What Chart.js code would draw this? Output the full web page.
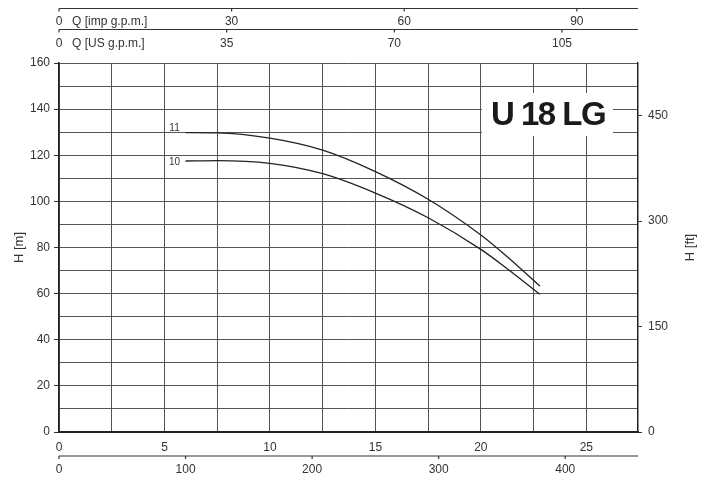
<!DOCTYPE html>
<html lang="en">
<head>
  <meta charset="UTF-8">
  <title>U 18 LG</title>
  <script src="https://cdn.jsdelivr.net/npm/chart.js"></script>
  <style>
    body { margin: 0; background: #fff; }
    canvas { display: block; }
  </style>
</head>
<body>
  <canvas id="pumpChart" width="710" height="482"></canvas>
  <script>
    // Flow in m3/h (main x axis), head in m
    const flow = [6, 7.5, 10, 12.5, 15, 17.5, 20, 21.25, 22.8];
    const head11 = [129.8, 129.7, 127.4, 122.2, 112.9, 100.9, 85.4, 76.0, 63.3];
    const head10 = [117.5, 117.7, 116.5, 112.0, 103.6, 92.9, 79.2, 70.8, 59.7];
    const curveNames = ['11', '10'];

    // secondary flow scales
    const impTicks = [0, 30, 60, 90];
    const usTicks = [0, 35, 70, 105];
    const lminTicks = [0, 100, 200, 300, 400];
    const IMP_TO_M3H = 0.27277;
    const US_TO_M3H = 0.22712;
    const LMIN_TO_M3H = 0.06;
    const M_TO_FT = 3.28084;

    const X_MAX = 27.45;
    const H_MAX = 160;

    Chart.defaults.font.family = "'Liberation Sans', Arial, sans-serif";
    Chart.defaults.font.size = 12;
    Chart.defaults.color = '#333';

    function pts(ys) {
      return flow.map((q, i) => ({ x: q, y: ys[i] }));
    }

    function noPad(s) {
      s.paddingLeft = 0; s.paddingRight = 0;
      s.paddingTop = 0; s.paddingBottom = 0;
    }

    function auxAxis(ctx, xs, y, ticks, factor, labelY) {
      ctx.strokeStyle = '#333';
      ctx.lineWidth = 1.2;
      ctx.beginPath();
      ctx.moveTo(xs.left, y);
      ctx.lineTo(xs.right, y);
      ctx.stroke();
      ctx.textAlign = 'center';
      ctx.textBaseline = 'middle';
      ticks.forEach(t => {
        const px = xs.getPixelForValue(t * factor);
        ctx.beginPath();
        ctx.moveTo(px, y);
        ctx.lineTo(px, y + 3);
        ctx.stroke();
        ctx.fillText(String(t), px, labelY);
      });
    }

    const extras = {
      id: 'extras',
      afterDraw(chart) {
        const { ctx, chartArea: a, scales } = chart;
        const xs = scales.x, ys = scales.y;
        ctx.save();

        // model name box
        ctx.fillStyle = '#fff';
        ctx.fillRect(482, 93, 131, 43);
        ctx.fillStyle = '#1a1a1a';
        ctx.font = "bold 33px 'Liberation Sans', Arial, sans-serif";
        ctx.letterSpacing = '-1.5px';
        ctx.textAlign = 'center';
        ctx.textBaseline = 'middle';
        ctx.fillText('U 18 LG', 548, 116);
        ctx.letterSpacing = '0px';

        // curve labels
        ctx.font = "10px 'Liberation Sans', Arial, sans-serif";
        ctx.fillStyle = '#333';
        ctx.fillText(curveNames[0], xs.getPixelForValue(flow[0]) - 11, ys.getPixelForValue(head11[0]) - 4);
        ctx.fillText(curveNames[1], xs.getPixelForValue(flow[0]) - 11, ys.getPixelForValue(head10[0]) + 1);

        // top and bottom secondary axes
        ctx.font = "12px 'Liberation Sans', Arial, sans-serif";
        ctx.fillStyle = '#333';
        auxAxis(ctx, xs, 8.5, impTicks, IMP_TO_M3H, 21.5);
        auxAxis(ctx, xs, 29.5, usTicks, US_TO_M3H, 43.5);
        auxAxis(ctx, xs, 456, lminTicks, LMIN_TO_M3H, 469.5);
        ctx.textAlign = 'left';
        ctx.fillText('Q [imp g.p.m.]', 72, 21.5);
        ctx.fillText('Q [US g.p.m.]', 72, 43.5);

        // axis titles
        ctx.font = "13px 'Liberation Sans', Arial, sans-serif";
        ctx.textAlign = 'center';
        ctx.save();
        ctx.translate(19, (a.top + a.bottom) / 2);
        ctx.rotate(-Math.PI / 2);
        ctx.fillText('H [m]', 0, 0);
        ctx.restore();
        ctx.save();
        ctx.translate(690, (a.top + a.bottom) / 2);
        ctx.rotate(-Math.PI / 2);
        ctx.fillText('H [ft]', 0, 0);
        ctx.restore();

        ctx.restore();
      }
    };

    new Chart(document.getElementById('pumpChart'), {
      type: 'line',
      data: {
        datasets: [
          { label: curveNames[0], data: pts(head11) },
          { label: curveNames[1], data: pts(head10) }
        ]
      },
      options: {
        responsive: false,
        animation: false,
        layout: { padding: { top: 63, left: 0, right: 0, bottom: 0 } },
        elements: {
          line: { borderColor: '#222', borderWidth: 1.3, cubicInterpolationMode: 'monotone', fill: false },
          point: { radius: 0 }
        },
        plugins: { legend: { display: false }, tooltip: { enabled: false } },
        scales: {
          x: {
            type: 'linear', min: 0, max: X_MAX,
            afterFit(s) { s.height = 50; noPad(s); },
            ticks: {
              stepSize: 2.5, includeBounds: false, autoSkip: false, maxRotation: 0, padding: 8,
              callback: v => (v % 5 === 0 ? v : '')
            },
            grid: { color: '#555', lineWidth: 1, drawTicks: false },
            border: { color: '#222', width: 2 }
          },
          y: {
            position: 'left', min: 0, max: H_MAX,
            afterFit(s) { s.width = 59; noPad(s); },
            ticks: { stepSize: 10, padding: 4, callback: v => (v % 20 === 0 ? v : '') },
            grid: {
              color: '#555', lineWidth: 1, tickLength: 5,
              tickColor: c => (c.tick && c.tick.value % 20 === 0 ? '#333' : 'rgba(0,0,0,0)')
            },
            border: { color: '#222', width: 1.5 }
          },
          y2: {
            position: 'right', min: 0, max: H_MAX * M_TO_FT,
            afterFit(s) { s.width = 72; noPad(s); },
            ticks: { stepSize: 150, includeBounds: false, padding: 6 },
            grid: { drawOnChartArea: false, tickLength: 4, color: '#333' },
            border: { color: '#222', width: 1.5 }
          }
        }
      },
      plugins: [extras]
    });
  </script>
</body>
</html>
